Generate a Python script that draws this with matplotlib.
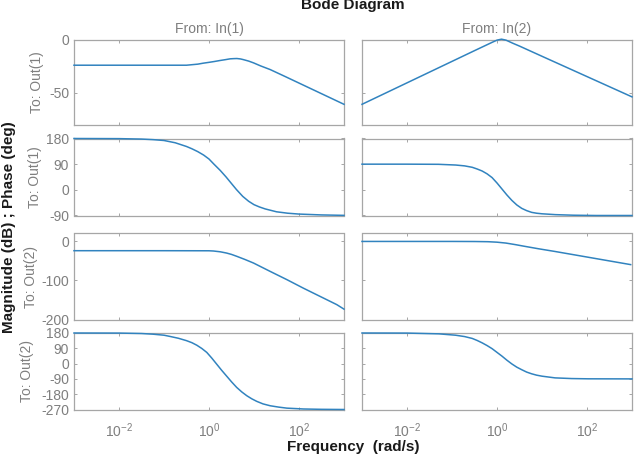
import numpy as np
import matplotlib
matplotlib.use("Agg")
import matplotlib.pyplot as plt

plt.rcParams['font.family'] = ['Liberation Sans', 'DejaVu Sans']
plt.rcParams['axes.unicode_minus'] = False

# ---- data: log10(w) sample points and values ----
# row 1: magnitude (dB), To: Out(1)
mag_11_logw = [-3, -2, -1, -0.5, -0.25, -0.13, 0, 0.12, 0.24, 0.36, 0.47, 0.55,
               0.62, 0.7, 0.76, 0.88, 0.99, 1.15, 1.36, 1.7, 2.1, 2.5, 3]
mag_11_db = [-24.2, -24.2, -24.2, -24.2, -23.2, -22.3, -21.5, -20.7, -19.8, -19.0,
             -18.2, -18.0, -17.9, -18.3, -18.9, -20.3, -22.0, -24.9, -28.3, -35,
             -43, -51, -61]
mag_12_logw = [-3, -2, -1, -0.5, -0.25, -0.1, 0, 0.1, 0.2, 0.35, 0.5, 1, 2, 3]
mag_12_db = [-61, -40.8, -20.6, -10.5, -5.5, -2.5, -0.6, 0.3, -0.6, -3.5, -6.2,
             -15.8, -34.9, -54]

# row 2: phase (deg), To: Out(1)
ph_11_logw = [-3, -2, -1.5, -1.24, -1, -0.75, -0.5, -0.38, -0.25, -0.12, 0, 0.11,
              0.25, 0.38, 0.5, 0.61, 0.75, 0.88, 1, 1.12, 1.25, 1.5, 1.75, 2,
              2.5, 3]
ph_11_deg = [180, 179.5, 178, 176, 173, 165, 152, 144, 134, 122, 108, 90,
             68, 45, 22, 1, -23, -40, -52, -60, -67, -77, -82, -85,
             -88, -89.5]
ph_12_logw = [-3, -2, -1.3, -0.92, -0.72, -0.55, -0.44, -0.33, -0.22, -0.11, 0.0,
              0.11, 0.22, 0.33, 0.44, 0.55, 0.66, 0.77, 0.88, 1.0, 1.3, 1.7,
              2.2, 3]
ph_12_deg = [90, 90, 89.5, 87, 84, 79, 73, 66, 56, 43, 24, 3, -18, -37, -53, -65,
             -73, -79, -82, -84, -87, -89, -90, -90]

# row 3: magnitude (dB), To: Out(2)
mag_21_logw = [-3, -2, -1, 0, 0.1, 0.25, 0.39, 0.5, 0.62, 0.8, 0.99, 1.36, 1.73,
               2.1, 2.47, 2.84, 3]
mag_21_db = [-24, -24, -24, -24.2, -24.8, -26.8, -30, -33.5, -38.5, -46.5, -55.6,
             -77, -98, -120, -141, -162, -173.5]
mag_22_logw = [-3, -2, -1, -0.5, -0.2, 0, 0.2, 0.41, 0.6, 0.92, 1.29, 1.6, 2.03,
               2.5, 2.97]
mag_22_db = [-0.3, -0.3, -0.3, -0.5, -1.0, -2.2, -4.5, -8.5, -12.5, -19, -26,
             -32.2, -40.8, -50.2, -59.6]

# row 4: phase (deg), To: Out(2)
ph_21_logw = [-3, -2, -1.5, -1.24, -1, -0.87, -0.68, -0.5, -0.38, -0.27, -0.16,
              -0.05, 0.06, 0.17, 0.28, 0.39, 0.5, 0.615, 0.73, 0.84, 0.95, 1.06,
              1.2, 1.36, 1.55, 1.73, 2.1, 2.5, 3]
ph_21_deg = [180, 179.5, 177, 173, 167, 160, 149, 135, 123, 108, 89, 66, 33, -3,
             -39, -73, -107, -140, -167, -189, -207, -222, -237, -248, -256,
             -262, -267, -269, -270]
ph_22_logw = [-3, -2, -1.29, -0.92, -0.72, -0.55, -0.44, -0.33, -0.22, -0.11, 0.0,
              0.11, 0.22, 0.33, 0.44, 0.55, 0.66, 0.77, 0.88, 1.0, 1.29, 1.66,
              2.03, 3]
ph_22_deg = [180, 179.5, 175, 167, 159, 148, 136, 122, 106, 88, 66, 44, 20, -2,
             -21, -36, -50, -60, -68, -74, -84, -88, -89.5, -90]

input_names = ["From: In(1)", "From: In(2)"]
output_names = ["To: Out(1)", "To: Out(1)", "To: Out(2)", "To: Out(2)"]
row_ylims = [(-80, 0), (-90, 180), (-200, 20), (-270, 180)]
row_yticks = [[-50, 0], [-90, 0, 90, 180], [-200, -100, 0],
              [-270, -180, -90, 0, 90, 180]]
x_ticks = [1e-2, 1e0, 1e2]

curves = [
    [(mag_11_logw, mag_11_db), (mag_12_logw, mag_12_db)],
    [(ph_11_logw, ph_11_deg), (ph_12_logw, ph_12_deg)],
    [(mag_21_logw, mag_21_db), (mag_22_logw, mag_22_db)],
    [(ph_21_logw, ph_21_deg), (ph_22_logw, ph_22_deg)],
]

# ---- layout (pixels of a 635x454 figure) ----
W, H = 635, 454
COL_X = [74, 362]
COL_W = 270
ROW_TOP = [39.5, 138.5, 233.5, 333]
ROW_H = [85, 77, 86, 76.5]
OUT_LABEL_X = [37.5, 35, 30.5, 27.5]

LINE = '#3183bf'
GREY = '#7f7f7f'
BOX = '#a6a6a6'


def px_rect(x, top, w, h):
    return [x / W, 1 - (top + h) / H, w / W, h / H]


fig = plt.figure(figsize=(W / 100, H / 100), dpi=100)

for r in range(4):
    for c in range(2):
        ax = fig.add_axes(px_rect(COL_X[c], ROW_TOP[r], COL_W, ROW_H[r]))
        logw, vals = curves[r][c]
        ax.semilogx(10.0 ** np.array(logw), vals, color=LINE, lw=1.1,
                    clip_on=False, zorder=3)
        ax.set_xlim(1e-3, 1e3)
        ax.set_ylim(*row_ylims[r])
        ax.set_xticks(x_ticks)
        ax.xaxis.set_minor_locator(matplotlib.ticker.NullLocator())
        ax.set_yticks(row_yticks[r])
        ax.tick_params(direction='in', length=2.5, width=0.7, colors=BOX,
                       labelcolor=GREY, labelsize=10, top=True, right=True)
        ax.tick_params(axis='x', pad=8.5)
        for s in ax.spines.values():
            s.set_color(BOX)
            s.set_linewidth(0.9)
        if r < 3:
            ax.set_xticklabels([])
        if c == 1:
            ax.set_yticklabels([])

for c in range(2):
    fig.text((COL_X[c] + COL_W / 2) / W, 1 - 33.5 / H, input_names[c],
             ha='center', va='baseline', fontsize=10, color=GREY)

for r in range(4):
    fig.text(OUT_LABEL_X[r] / W, 1 - (ROW_TOP[r] + ROW_H[r] / 2) / H,
             output_names[r], rotation=90, ha='center', va='center',
             fontsize=10, color=GREY)

fig.text(353 / W, 1 - 9.5 / H, "Bode Diagram", ha='center', va='baseline',
         fontsize=11, fontweight='bold', color='#1a1a1a')
fig.text(9 / W, 1 - 227 / H, "Magnitude (dB) ; Phase (deg)", rotation=90,
         ha='center', va='center', fontsize=11, fontweight='bold',
         color='#1a1a1a')
fig.text(353 / W, 1 - 450.5 / H, "Frequency  (rad/s)", ha='center',
         va='baseline', fontsize=11, fontweight='bold', color='#1a1a1a')

fig.savefig("out.png", dpi=100)
